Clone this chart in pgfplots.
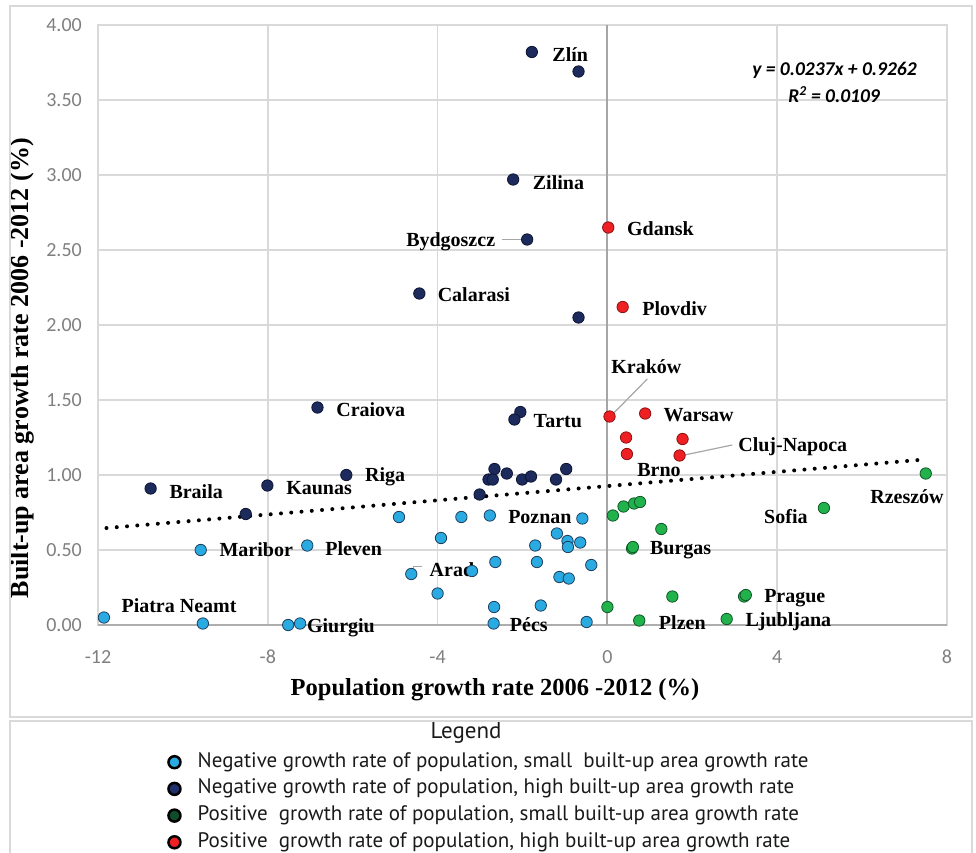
\documentclass[border=0pt]{standalone}
\usepackage{fontspec}
\setmainfont{Liberation Serif}
\newfontfamily\tickfont{Carlito}
\newfontfamily\legfont{PT Sans}
\usepackage{pgfplots}
\pgfplotsset{compat=1.18}

\definecolor{lblue}{HTML}{29ABE2}
\definecolor{lblueedge}{HTML}{1F3F5F}
\definecolor{navy}{HTML}{1C2A5C}
\definecolor{navyedge}{HTML}{0D1633}
\definecolor{grn}{HTML}{22B24C}
\definecolor{grnedge}{HTML}{10582A}
\definecolor{red}{HTML}{EE2024}
\definecolor{rededge}{HTML}{8B1212}
\definecolor{legnavy}{HTML}{1F2F6B}
\definecolor{leggreen}{HTML}{0F4D2A}
\definecolor{gridgray}{HTML}{D9D9D9}
\definecolor{tickgray}{HTML}{7F7F7F}
\definecolor{zerogray}{HTML}{A6A6A6}
\definecolor{legtext}{HTML}{1A1A1A}

\begin{document}
\begin{tikzpicture}[
  lab/.style={font=\bfseries\fontsize{20}{20}\selectfont, inner sep=0pt},
  lead/.style={draw=gray!70, line width=1.2pt}
]
\begin{axis}[
  scale only axis,
  width=849pt, height=600pt,
  xmin=-12, xmax=8, ymin=0, ymax=4,
  xtick={-12,-8,-4,0,4,8},
  ytick={0,0.5,1,1.5,2,2.5,3,3.5,4},
  grid=major,
  major grid style={draw=gridgray, line width=1.5pt},
  axis line style={draw=gridgray, line width=1.5pt},
  major tick length=0pt,
  clip=false,
  /pgf/number format/assume math mode=true,
  tick label style={font=\tickfont\fontsize{20}{20}\selectfont, text=tickgray, inner sep=0pt},
  yticklabel style={anchor=east, xshift=-16pt, /pgf/number format/.cd, fixed, fixed zerofill, precision=2},
  xticklabel style={anchor=north, yshift=-25pt},
  xlabel={Population growth rate 2006 -2012 (\%)},
  ylabel={Built-up area growth rate 2006 -2012 (\%)},
  xlabel style={font=\bfseries\fontsize{24.5}{25}\selectfont, at={(axis description cs:0.4676,-0.108)}, anchor=center},
  ylabel style={font=\bfseries\fontsize{26}{26}\selectfont, at={(axis description cs:-0.0895,0.428)}, anchor=center},
  legend style={at={(axis description cs:0.0813,-0.2133)}, anchor=north west,
    draw=none, fill=none, inner sep=0pt, row sep=8.7pt, column sep=16pt,
    font=\legfont\fontsize{21}{21}\selectfont, text=legtext, legend cell align=left,
    nodes={inner sep=0pt, text height=14pt, text depth=4pt}},
]
% axis lines at y=0 and x=0
\draw[draw=gridgray!80!black, line width=2pt] (axis cs:-12,0) -- (axis cs:8,0);
\draw[draw=zerogray, line width=2pt] (axis cs:0,0) -- (axis cs:0,4);

% negative population growth, small built-up growth
\addplot[only marks, mark=*, mark size=5.7pt, mark options={fill=lblue, draw=lblueedge, line width=0.8pt}, forget plot]
coordinates {
(-11.86,0.05) (-9.58,0.50) (-9.53,0.01) (-7.52,0.00) (-7.24,0.01) (-7.07,0.53)
(-4.91,0.72) (-3.44,0.72) (-2.77,0.73) (-0.59,0.71) (-3.92,0.58) (-1.19,0.61)
(-1.70,0.53) (-0.94,0.56) (-0.93,0.52) (-0.64,0.55) (-4.62,0.34) (-3.19,0.36)
(-2.64,0.42) (-1.66,0.42) (-0.38,0.40) (-1.13,0.32) (-0.91,0.31) (-4.00,0.21)
(-2.67,0.12) (-1.57,0.13) (-2.68,0.01) (-0.49,0.02)
};
% negative population growth, high built-up growth
\addplot[only marks, mark=*, mark size=5.7pt, mark options={fill=navy, draw=navyedge, line width=0.8pt}, forget plot]
coordinates {
(-1.78,3.82) (-0.68,3.69) (-2.22,2.97) (-1.89,2.57) (-4.43,2.21) (-0.68,2.05)
(-6.83,1.45) (-6.15,1.00) (-10.76,0.91) (-8.01,0.93) (-8.52,0.74) (-2.05,1.42)
(-2.19,1.37) (-2.66,1.04) (-2.80,0.97) (-2.70,0.97) (-2.37,1.01) (-2.01,0.97)
(-1.80,0.99) (-1.21,0.97) (-0.97,1.04) (-3.01,0.87)
};
% positive population growth, small built-up growth
\addplot[only marks, mark=*, mark size=5.7pt, mark options={fill=grn, draw=grnedge, line width=0.8pt}, forget plot]
coordinates {
(0.13,0.73) (0.38,0.79) (0.63,0.81) (0.77,0.82) (1.27,0.64) (0.58,0.51) (0.60,0.52)
(1.53,0.19) (0.00,0.12) (0.75,0.03) (7.50,1.01) (5.10,0.78) (3.22,0.19) (3.26,0.20)
(2.81,0.04)
};
% positive population growth, high built-up growth
\addplot[only marks, mark=*, mark size=5.7pt, mark options={fill=red, draw=rededge, line width=0.8pt}, forget plot]
coordinates {
(0.02,2.65) (0.36,2.12) (0.05,1.39) (0.89,1.41) (0.44,1.25) (0.46,1.14) (1.77,1.24) (1.70,1.13)
};
% linear trend y = 0.0237x + 0.9262
\addplot[black, line width=4pt, line cap=round, dash pattern=on 0pt off 10.3pt, forget plot]
coordinates {(-11.8,0.6465) (7.4,1.1016)};

\addlegendimage{legend image code/.code={\draw[fill=lblue, draw=black, line width=2.5pt] (0pt,0pt) circle (6pt);}}
\addlegendentry{Negative growth rate of population, small\ \ built-up area growth rate}
\addlegendimage{legend image code/.code={\draw[fill=legnavy, draw=black, line width=2.5pt] (0pt,0pt) circle (6pt);}}
\addlegendentry{Negative growth rate of population, high built-up area growth rate}
\addlegendimage{legend image code/.code={\draw[fill=leggreen, draw=black, line width=2.5pt] (0pt,0pt) circle (6pt);}}
\addlegendentry{Positive\ \ growth rate of population, small built-up area growth rate}
\addlegendimage{legend image code/.code={\draw[fill=red, draw=black, line width=2.5pt] (0pt,0pt) circle (6pt);}}
\addlegendentry{Positive\ \ growth rate of population, high built-up area growth rate}

% city labels
\node[lab, anchor=west] at (axis cs:-1.30,3.80) {Zlín};
\node[lab, anchor=west] at (axis cs:-1.76,2.95) {Zilina};
\node[lab, anchor=west] at (axis cs:0.46,2.64) {Gdansk};
\node[lab, anchor=east] at (axis cs:-2.64,2.555) {Bydgoszcz};
\draw[lead] (axis cs:-2.48,2.57) -- (axis cs:-2.0,2.57);
\node[lab, anchor=west] at (axis cs:-4.00,2.20) {Calarasi};
\node[lab, anchor=west] at (axis cs:0.82,2.11) {Plovdiv};
\node[lab, anchor=west] at (axis cs:-6.39,1.435) {Craiova};
\node[lab, anchor=west] at (axis cs:-5.71,0.99) {Riga};
\node[lab, anchor=west] at (axis cs:-10.32,0.89) {Braila};
\node[lab, anchor=west] at (axis cs:-7.57,0.91) {Kaunas};
\node[lab, anchor=west] at (axis cs:-9.14,0.50) {Maribor};
\node[lab, anchor=west] at (axis cs:-6.65,0.51) {Pleven};
\node[lab, anchor=west] at (axis cs:-11.45,0.13) {Piatra Neamt};
\node[lab, anchor=west] at (axis cs:-7.08,-0.02) {Giurgiu};
\node[lab, anchor=west] at (axis cs:-1.74,1.36) {Tartu};
\node[lab, anchor=west] at (axis cs:0.09,1.72) {Kraków};
\draw[lead] (axis cs:0.94,1.64) -- (axis cs:0.07,1.39);
\node[lab, anchor=west] at (axis cs:1.32,1.40) {Warsaw};
\node[lab, anchor=west] at (axis cs:3.08,1.19) {Cluj-Napoca};
\draw[lead] (axis cs:2.94,1.20) -- (axis cs:1.76,1.13);
\node[lab, anchor=west] at (axis cs:0.70,1.035) {Brno};
\node[lab, anchor=west] at (axis cs:-2.34,0.72) {Poznan};
\node[lab, anchor=west] at (axis cs:1.00,0.50) {Burgas};
\node[lab, anchor=west] at (axis cs:-4.19,0.37) {Arad};
\draw[lead] (axis cs:-4.37,0.39) -- (axis cs:-4.57,0.39) -- (axis cs:-4.57,0.355);
\node[lab, anchor=west] at (axis cs:-2.30,0.0) {Pécs};
\node[lab, anchor=west] at (axis cs:1.21,0.013) {Plzen};
\node[lab, anchor=west] at (axis cs:6.19,0.857) {Rzeszów};
\node[lab, anchor=east] at (axis cs:4.72,0.72) {Sofia};
\node[lab, anchor=west] at (axis cs:3.69,0.18) {Prague};
\node[lab, anchor=west] at (axis cs:3.25,0.02) {Ljubljana};

% trend equation
\node[font=\tickfont\bfseries\itshape\fontsize{19.5}{19.5}\selectfont, inner sep=0pt] at (axis cs:5.35,3.70) {y = 0.0237x + 0.9262};
\node[font=\tickfont\bfseries\itshape\fontsize{19.5}{19.5}\selectfont, inner sep=0pt] at (axis cs:5.34,3.535) {R\textsuperscript{2} = 0.0109};

% legend title
\node[font=\legfont\fontsize{23}{23}\selectfont, text=legtext, inner sep=0pt] at (axis description cs:0.4335,-0.18) {Legend};
\end{axis}
% chart frame and legend frame
\draw[draw=gridgray, line width=2.5pt] (-88pt,-92pt) rectangle (874pt,619pt);
\draw[draw=gridgray, line width=2.5pt] (-88pt,-240pt) -- (-88pt,-96pt) -- (874pt,-96pt) -- (874pt,-240pt);
\pgfresetboundingbox
\path[use as bounding box] (-98pt,-227pt) rectangle (878pt,625pt);
\end{tikzpicture}
\end{document}
